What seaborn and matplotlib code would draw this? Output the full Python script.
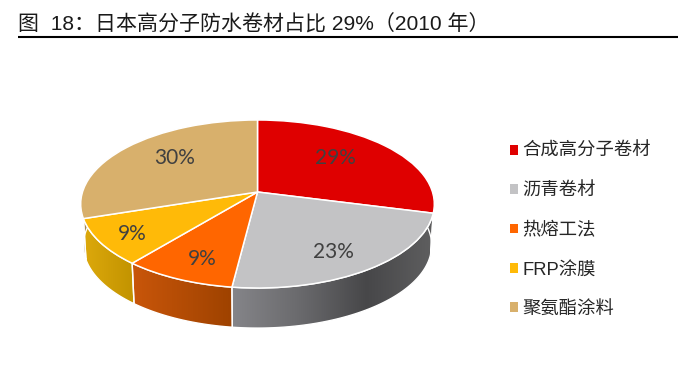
import matplotlib
matplotlib.use("Agg")
import matplotlib.pyplot as plt
import numpy as np
import seaborn as sns
from matplotlib.patches import Patch, Polygon
from matplotlib.transforms import Transform

categories = ["合成高分子卷材", "沥青卷材", "热熔工法", "FRP涂膜", "聚氨酯涂料"]
values = [29, 23, 9, 9, 30]
top_colors = ["#DF0000", "#C3C3C5", "#FF6600", "#FFBA08", "#D8B06C"]
side_colors = [
    ["#900000", "#A00000"],
    ["#858589", "#6A6A6D", "#474749", "#5F5F60"],
    ["#C9560A", "#9E4200"],
    ["#DDA90C", "#C29300"],
    ["#A88850", "#A88850"],
]
# where each percent label sits in its slice: radius and turn away from the middle
label_radius = [0.644, 0.767, 0.783, 0.82, 0.672]
label_turn = [-5.2, 3.6, -2.1, -1.3, 5.2]

title = "图  18：日本高分子防水卷材占比 29%（2010 年）"
cjk_fonts = ["Liberation Sans", "Noto Sans CJK SC"]

sns.set_theme(style="white")
plt.rcParams["font.family"] = cjk_fonts

# the pie is tilted, so the unit circle goes through a perspective map to pixels
cx, cy = 257.5, 192
width, height, tilt = 175, 82.3, 1 / 7
depth, shrink = 41.5, 0.985


class Tilt(Transform):
    input_dims = 2
    output_dims = 2

    def __init__(self, drop=0.0, scale=1.0):
        super().__init__()
        self.drop = drop
        self.scale = scale

    def transform_non_affine(self, xy):
        xy = np.asarray(xy, dtype=float)
        w = 1 + tilt * xy[:, 1]
        px = cx + self.scale * width * xy[:, 0] / w
        py = cy + self.drop - self.scale * height * xy[:, 1] / w
        return np.column_stack([px, py])


fig = plt.figure(figsize=(6.96, 3.85), dpi=100)
ax = fig.add_axes([0, 0, 1, 1])

palette = sns.color_palette(top_colors)
wedges, texts, autotexts = ax.pie(
    values,
    colors=palette,
    startangle=90,
    counterclock=False,
    autopct="%.0f%%",
    pctdistance=1.0,
    wedgeprops={"edgecolor": "white", "linewidth": 1.1, "zorder": 3},
)

top = Tilt()
bottom = Tilt(drop=depth, scale=shrink)
for w in wedges:
    w.set_transform(top + ax.transData)

edges = np.cumsum([0] + values) / np.sum(values) * 2 * np.pi

for i, at in enumerate(autotexts):
    mid = (edges[i] + edges[i + 1]) / 2 + np.radians(label_turn[i])
    at.set_position((label_radius[i] * np.sin(mid), label_radius[i] * np.cos(mid)))
    at.set_transform(top + ax.transData)
    at.set_fontfamily("Lato")
    at.set_fontsize(15)
    at.set_color("#404040")
    at.set_zorder(5)

# side of the disc, one gradient strip per slice
for i in range(len(values)):
    t = np.linspace(edges[i], edges[i + 1], 80)
    rim = np.column_stack([np.sin(t), np.cos(t)])
    outline = np.vstack([top.transform(rim), bottom.transform(rim)[::-1]])
    x0, x1 = outline[:, 0].min(), outline[:, 0].max()
    y0, y1 = outline[:, 1].min(), outline[:, 1].max()
    cmap = sns.blend_palette(side_colors[i], as_cmap=True)
    im = ax.imshow(
        np.linspace(0, 1, 256).reshape(1, -1),
        cmap=cmap,
        extent=(x0, x1, y1, y0),
        aspect="auto",
        zorder=1,
    )
    clip = Polygon(outline, closed=True, transform=ax.transData)
    im.set_clip_path(clip)
    ax.add_patch(Polygon(outline, closed=True, facecolor="none", edgecolor="white",
                         linewidth=1.0, zorder=2))

ax.set_aspect("auto")
ax.set_xlim(0, 696)
ax.set_ylim(385, 0)
ax.axis("off")

ax.text(18, 24, title, fontsize=15.1, color="#1A1A1A", va="center", ha="left")
ax.plot([18, 678], [37, 37], color="black", linewidth=1.5, solid_capstyle="butt")

handles = [Patch(facecolor=c, edgecolor="none") for c in palette]
ax.legend(
    handles,
    categories,
    loc="center left",
    bbox_to_anchor=(510, 230.5),
    bbox_transform=ax.transData,
    frameon=False,
    fontsize=13.2,
    labelcolor="#262626",
    labelspacing=1.22,
    handlelength=0.44,
    handleheight=0.44,
    handletextpad=0.25,
    borderpad=0,
    borderaxespad=0,
)

fig.savefig("out.png", dpi=100, facecolor="white")
